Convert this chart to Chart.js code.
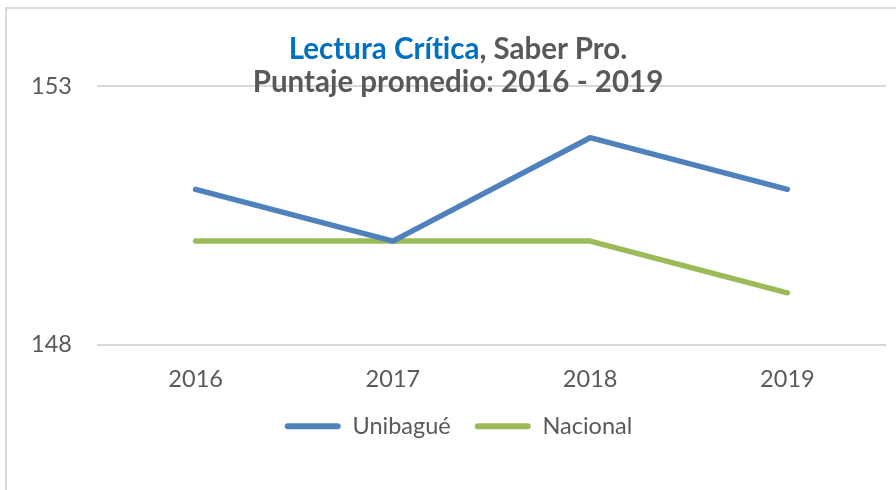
<!DOCTYPE html>
<html>
<head>
<meta charset="utf-8">
<script src="https://cdn.jsdelivr.net/npm/chart.js"></script>
<style>
  html, body { margin: 0; padding: 0; background: #fff; }
  #wrap { position: relative; width: 896px; height: 490px; overflow: hidden; }
  #frame { position: absolute; left: 5px; top: 7px; width: 900px; height: 500px; border: 2px solid #d9d9d9; box-sizing: border-box; }
  canvas { position: absolute; left: 0; top: 0; }
  #title { position: absolute; left: 0; top: 31px; width: 916px; text-align: center;
           font-family: Lato, sans-serif; font-weight: bold; font-size: 29.5px; line-height: 33px; color: #595959;
           font-variant-ligatures: none; }
  #title .hl { color: #0070c0; }
</style>
</head>
<body>
<div id="wrap">
  <div id="frame"></div>
  <canvas id="chart" width="896" height="490"></canvas>
  <div id="title"><span class="hl">Lectura Crítica</span>, Saber Pro.<br>Puntaje promedio: 2016 - 2019</div>
</div>
<script>
// values
const years = ['2016', '2017', '2018', '2019'];
const unibague = [151, 150, 152, 151];
const nacional = [150, 150, 150, 149];
const yTicks = [148, 153];

const grey = '#595959';
const font = { family: 'Lato, sans-serif', size: 23.5 };

new Chart(document.getElementById('chart'), {
  type: 'line',
  data: {
    labels: years,
    datasets: [
      { label: 'Unibagué', data: unibague, borderColor: '#4f81bd', backgroundColor: '#4f81bd',
        borderWidth: 5.5, pointRadius: 0, borderCapStyle: 'round', borderJoinStyle: 'round', tension: 0 },
      { label: 'Nacional', data: nacional, borderColor: '#9bbb59', backgroundColor: '#9bbb59',
        borderWidth: 5.5, pointRadius: 0, borderCapStyle: 'round', borderJoinStyle: 'round', tension: 0 }
    ]
  },
  options: {
    responsive: false,
    animation: false,
    layout: { padding: { top: 86, right: 10, left: 31, bottom: 42 } },
    plugins: {
      title: { display: false },
      tooltip: { enabled: false },
      legend: {
        position: 'bottom',
        labels: {
          font: font, color: grey, boxWidth: 56, boxHeight: 6, padding: 24,
          useBorderRadius: true, borderRadius: 3,
          generateLabels: chart => chart.data.datasets.map((ds, i) => ({
            text: ds.label, fillStyle: ds.borderColor, strokeStyle: ds.borderColor,
            lineWidth: 0, fontColor: grey, datasetIndex: i, hidden: false, borderRadius: 3
          }))
        }
      }
    },
    scales: {
      x: {
        offset: true,
        grid: { display: false },
        border: { display: false },
        ticks: { font: font, color: grey, padding: 13 },
        afterFit: s => { s.height = 46; }
      },
      y: {
        min: 148, max: 153,
        afterBuildTicks: s => { s.ticks = yTicks.map(v => ({ value: v })); },
        grid: { color: '#d9d9d9', lineWidth: 2, drawTicks: false },
        border: { display: false },
        ticks: { font: font, color: grey, padding: 25 },
        afterFit: s => { s.width = 66; }
      }
    }
  }
});
</script>
</body>
</html>
